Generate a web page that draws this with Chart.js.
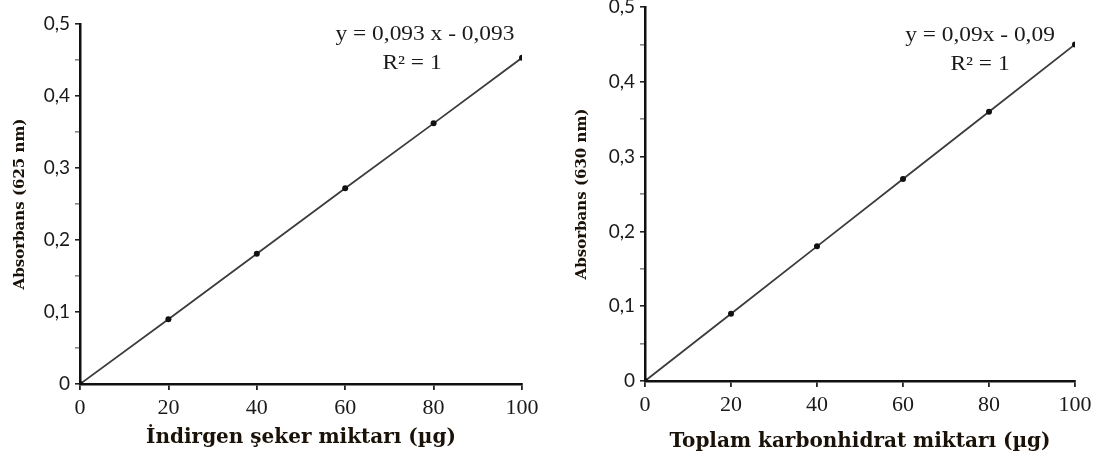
<!DOCTYPE html>
<html>
<head>
<meta charset="utf-8">
<script src="https://cdn.jsdelivr.net/npm/chart.js@4.4.1/dist/chart.umd.min.js"></script>
<style>
  html, body { margin: 0; padding: 0; background: #fff; }
  body { width: 1113px; height: 463px; position: relative; overflow: hidden; }
  .box { position: absolute; top: 0; height: 463px; }
  .eq { position: absolute; font-family: "Liberation Serif", "DejaVu Serif", serif; font-size: 20px; color: #1a1a1a; white-space: nowrap; transform: translate(-50%, -50%) scaleX(1.17); line-height: 1; }
</style>
</head>
<body>
<div class="box" style="left:0;width:556px;"><canvas id="c1" width="556" height="463"></canvas></div>
<div class="box" style="left:560px;width:553px;"><canvas id="c2" width="553" height="463"></canvas></div>
<div class="eq" style="left:425px;top:33px;">y = 0,093 x - 0,093</div>
<div class="eq" style="left:412px;top:62px;">R² = 1</div>
<div class="eq" style="left:980px;top:34px;">y = 0,09x - 0,09</div>
<div class="eq" style="left:980px;top:63px;">R² = 1</div>
<script>
// ---- data ----
const xValues = [0, 20, 40, 60, 80, 100];
const sugarAbs = [0, 0.09, 0.181, 0.272, 0.362, 0.453];
const carbAbs = [0, 0.09, 0.18, 0.27, 0.36, 0.45];
const xTitleLeft = 'İndirgen şeker miktarı (µg)';
const xTitleRight = 'Toplam karbonhidrat miktarı (µg)';
const yTitleLeft = 'Absorbans (625 nm)';
const yTitleRight = 'Absorbans (630 nm)';
const xMax = 100, xStep = 20;
const yMax = 0.5, yStep = 0.05;

function fmtY(v) {
  const h = Math.round(v * 100);
  if (h % 10 !== 0) return '';
  if (h === 0) return '0';
  return (h / 100).toFixed(1).replace('.', ',');
}

function makeChart(id, ys, xTitle, yTitle, cfg) {
  const pts = xValues.map((x, i) => ({ x: x, y: ys[i] }));
  return new Chart(document.getElementById(id), {
    type: 'scatter',
    data: { datasets: [{
      data: pts,
      showLine: true,
      borderColor: '#3c3c3c',
      borderWidth: 1.8,
      pointRadius: 3,
      pointBackgroundColor: '#111',
      pointBorderColor: '#111',
      pointBorderWidth: 0
    }]},
    options: {
      responsive: false,
      animation: false,
      events: [],
      layout: { padding: { left: 0, top: cfg.top, right: cfg.right, bottom: 0 } },
      plugins: { legend: { display: false }, tooltip: { enabled: false } },
      scales: {
        x: {
          type: 'linear', min: 0, max: xMax,
          afterFit: s => { s.height = cfg.xh; s.paddingLeft = 0; s.paddingRight = 0; },
          border: { display: true, color: '#111', width: 2.5 },
          grid: { drawOnChartArea: false, drawTicks: true, tickLength: 6, color: '#222', lineWidth: 1.8 },
          ticks: { stepSize: xStep, padding: cfg.xpad, color: '#1a1a1a', maxRotation: 0,
                   font: { family: '"Liberation Serif", serif', size: 22 } },
          title: { display: true, text: xTitle, color: '#1a1208',
                   font: { family: '"DejaVu Serif", serif', size: 20, weight: 'bold' },
                   padding: { top: 0, bottom: cfg.xtb } }
        },
        y: {
          type: 'linear', min: 0, max: yMax,
          afterFit: s => { s.width = cfg.yw; s.paddingTop = 0; s.paddingBottom = 0; },
          border: { display: true, color: '#111', width: 2.5 },
          grid: { drawOnChartArea: false, drawTicks: true, tickLength: 5,
                  color: ctx => (ctx.tick && Math.round(ctx.tick.value * 100) % 10 === 0) ? '#222' : '#888',
                  lineWidth: 1.6 },
          ticks: { stepSize: yStep, padding: 5, color: '#1a1a1a', autoSkip: false,
                   callback: v => fmtY(v),
                   font: { family: 'Lato, "Open Sans", sans-serif', size: 19 } },
          title: { display: true, text: yTitle, color: '#1a1208',
                   font: { family: '"DejaVu Serif", serif', size: 15, weight: 'bold' },
                   padding: { top: cfg.ytp, bottom: 0 } }
        }
      }
    }
  });
}

makeChart('c1', sugarAbs, xTitleLeft, yTitleLeft,
  { top: 24, right: 34, xh: 79, yw: 80, xpad: 5, xtb: 13, ytp: 11 });
makeChart('c2', carbAbs, xTitleRight, yTitleRight,
  { top: 7, right: 38, xh: 82, yw: 85, xpad: 5, xtb: 9, ytp: 13 });
</script>
</body>
</html>
